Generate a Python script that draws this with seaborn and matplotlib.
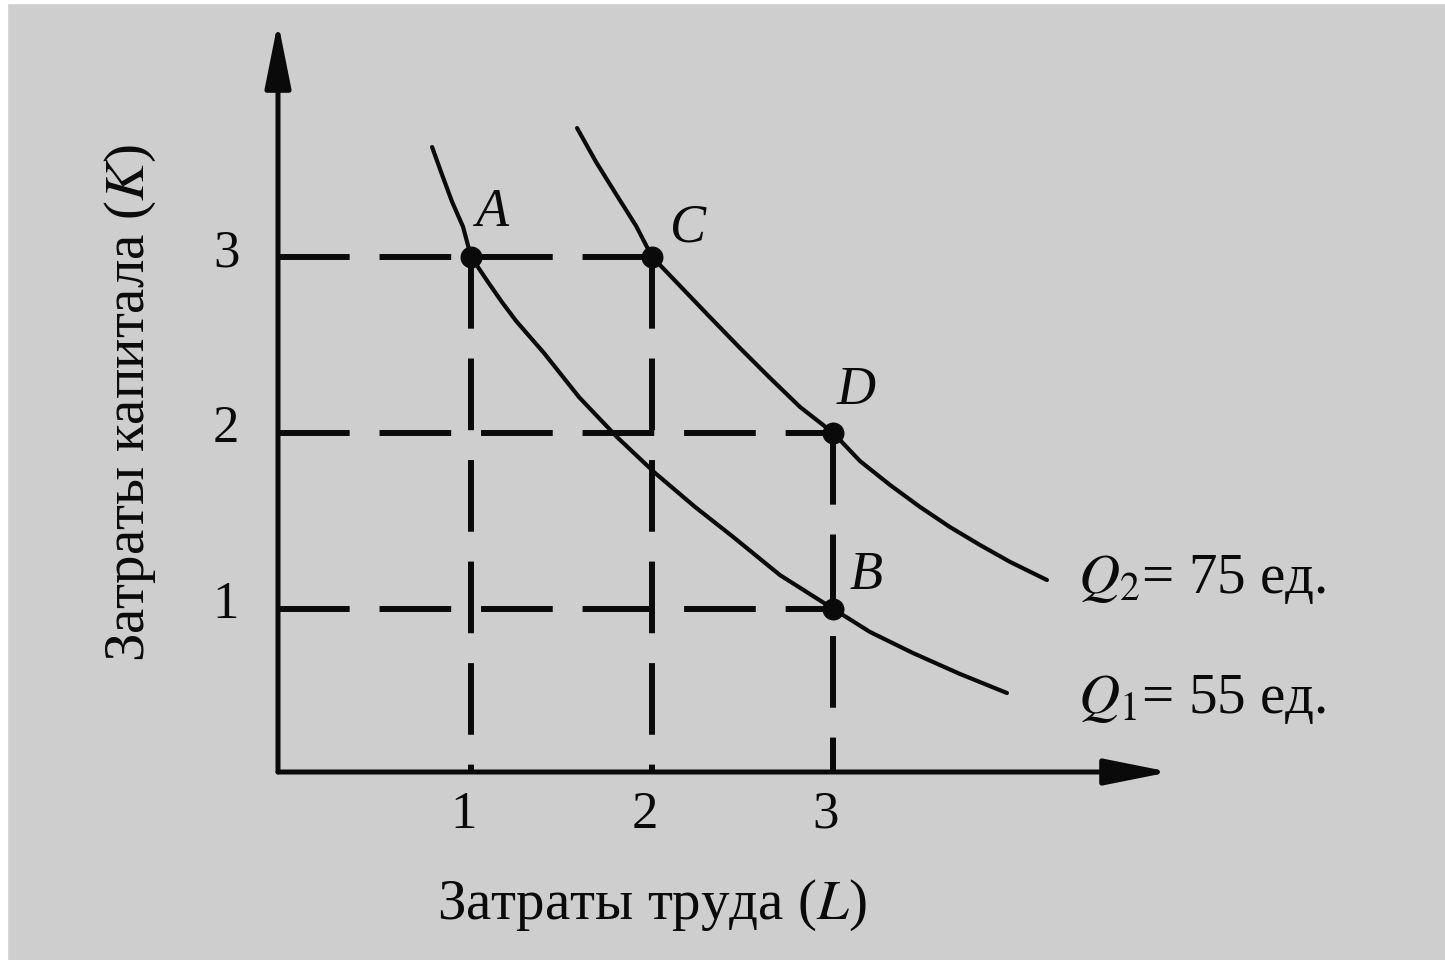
import matplotlib
matplotlib.use("Agg")
import matplotlib.pyplot as plt
import seaborn as sns
import pandas as pd
from matplotlib.patches import Rectangle, FancyArrowPatch

# ---- data ----
q1_L = [0.785, 0.840, 0.895, 0.956, 1.0, 1.094, 1.171, 1.249, 1.403, 1.597,
        1.807, 2.017, 2.238, 2.448, 2.707, 3.0, 3.204, 3.442, 3.702, 3.961]
q1_K = [3.623, 3.466, 3.313, 3.170, 3.0, 2.856, 2.742, 2.635, 2.453, 2.202,
        1.975, 1.771, 1.578, 1.408, 1.191, 1.0, 0.868, 0.748, 0.629, 0.521]
q2_L = [1.586, 1.691, 1.801, 1.912, 2.0, 2.166, 2.320, 2.486, 2.652, 2.818,
        3.0, 3.149, 3.315, 3.481, 3.646, 3.812, 3.978, 4.182]
q2_K = [3.731, 3.538, 3.356, 3.175, 3.0, 2.822, 2.657, 2.481, 2.311, 2.146,
        2.0, 1.839, 1.703, 1.578, 1.464, 1.362, 1.266, 1.163]
point_names = ["A", "C", "D", "B"]
point_L = [1, 2, 3, 3]
point_K = [3, 3, 2, 1]
x_ticks = [1, 2, 3]
y_ticks = [1, 2, 3]
curve_labels = [r"$Q_1$= 55 ед.", r"$Q_2$= 75 ед."]
x_title = r"Затраты труда ($L$)"
y_title = r"Затраты капитала ($K$)"

sns.set_theme(style="white")
plt.rcParams["font.family"] = ["Liberation Serif", "DejaVu Serif"]
plt.rcParams["mathtext.fontset"] = "stix"

W, H = 1445, 960
fig = plt.figure(figsize=(W / 100, H / 100), dpi=100, facecolor="#cecece")
fig.patches.append(Rectangle((0, 0), 7 / W, 1, transform=fig.transFigure, color="white", zorder=0))
fig.patches.append(Rectangle((0, 1 - 3 / H), 1, 3 / H, transform=fig.transFigure, color="white", zorder=0))

ax = fig.add_axes([0, 0, 1, 1])
ax.set_facecolor("none")
# pixel mapping: px = 290 + 181*L ; py(top) = 784.7 - 176*K
x0, ux = 290, 181
y0, uy = 784.7, 176
ax.set_xlim(-x0 / ux, (W - x0) / ux)
ax.set_ylim((y0 - H) / uy, y0 / uy)
for s in ax.spines.values():
    s.set_visible(False)
ax.set_xticks([])
ax.set_yticks([])

ink = "#0a0a0a"
axL = (278 - x0) / ux
axK = (y0 - 772) / uy

# dashed guides: horizontal to the farthest point at each K, vertical from the highest point at each L
dash_kw = dict(color=ink, lw=4.3, dashes=(12, 5), solid_capstyle="butt", zorder=2)
for K in sorted(set(point_K)):
    Lmax = max(L for L, k in zip(point_L, point_K) if k == K)
    ax.plot([axL, Lmax], [K, K], **dash_kw)
for L in sorted(set(point_L)):
    Kmax = max(k for l, k in zip(point_L, point_K) if l == L)
    ax.plot([L, L], [Kmax, axK], **dash_kw)

# curves
df1 = pd.DataFrame({"L": q1_L, "K": q1_K})
df2 = pd.DataFrame({"L": q2_L, "K": q2_K})
sns.lineplot(data=df1, x="L", y="K", sort=False, color=ink, lw=3.0, ax=ax, zorder=3,
             solid_joinstyle="round")
sns.lineplot(data=df2, x="L", y="K", sort=False, color=ink, lw=3.0, ax=ax, zorder=3,
             solid_joinstyle="round")
ax.set_xlabel("")
ax.set_ylabel("")

# points
dfp = pd.DataFrame({"L": point_L, "K": point_K})
sns.scatterplot(data=dfp, x="L", y="K", color=ink, s=250, edgecolor=ink, linewidth=0, ax=ax, zorder=4)
ax.set_xlabel("")
ax.set_ylabel("")

# point labels
offsets = {"A": (0.12, 0.25), "C": (0.2, 0.16), "D": (0.13, 0.24), "B": (0.18, 0.19)}
for n, L, K in zip(point_names, point_L, point_K):
    dx, dy = offsets[n]
    ax.text(L + dx, K + dy, n, fontsize=39, style="italic", color=ink,
            ha="center", va="center", zorder=5)

# axes arrows
arr_kw = dict(arrowstyle="-|>,head_length=40,head_width=8", mutation_scale=1,
              color=ink, lw=3.6, shrinkA=0, shrinkB=0, zorder=5)
ax.add_patch(FancyArrowPatch((axL, axK), (axL, (y0 - 22) / uy), **arr_kw))
ax.add_patch(FancyArrowPatch((axL, axK), ((1170 - x0) / ux, axK), **arr_kw))

# tick labels
for t in x_ticks:
    ax.text(t - 0.04, (y0 - 815) / uy, str(t), fontsize=38, color=ink, ha="center", va="center")
for t in y_ticks:
    ax.text((226 - x0) / ux, t + 0.02, str(t), fontsize=38, color=ink, ha="center", va="center")

# curve labels
ax.text((1078 - x0) / ux, (y0 - 700) / uy, curve_labels[0], fontsize=41, color=ink, ha="left", va="center")
ax.text((1078 - x0) / ux, (y0 - 580) / uy, curve_labels[1], fontsize=41, color=ink, ha="left", va="center")

# axis titles
ax.text((652 - x0) / ux, (y0 - 905) / uy, x_title, fontsize=41, color=ink, ha="center", va="center")
ax.text((130 - x0) / ux, (y0 - 403) / uy, y_title, fontsize=41, color=ink, ha="center", va="center", rotation=90)

fig.savefig("out.png", dpi=100, facecolor=fig.get_facecolor())
